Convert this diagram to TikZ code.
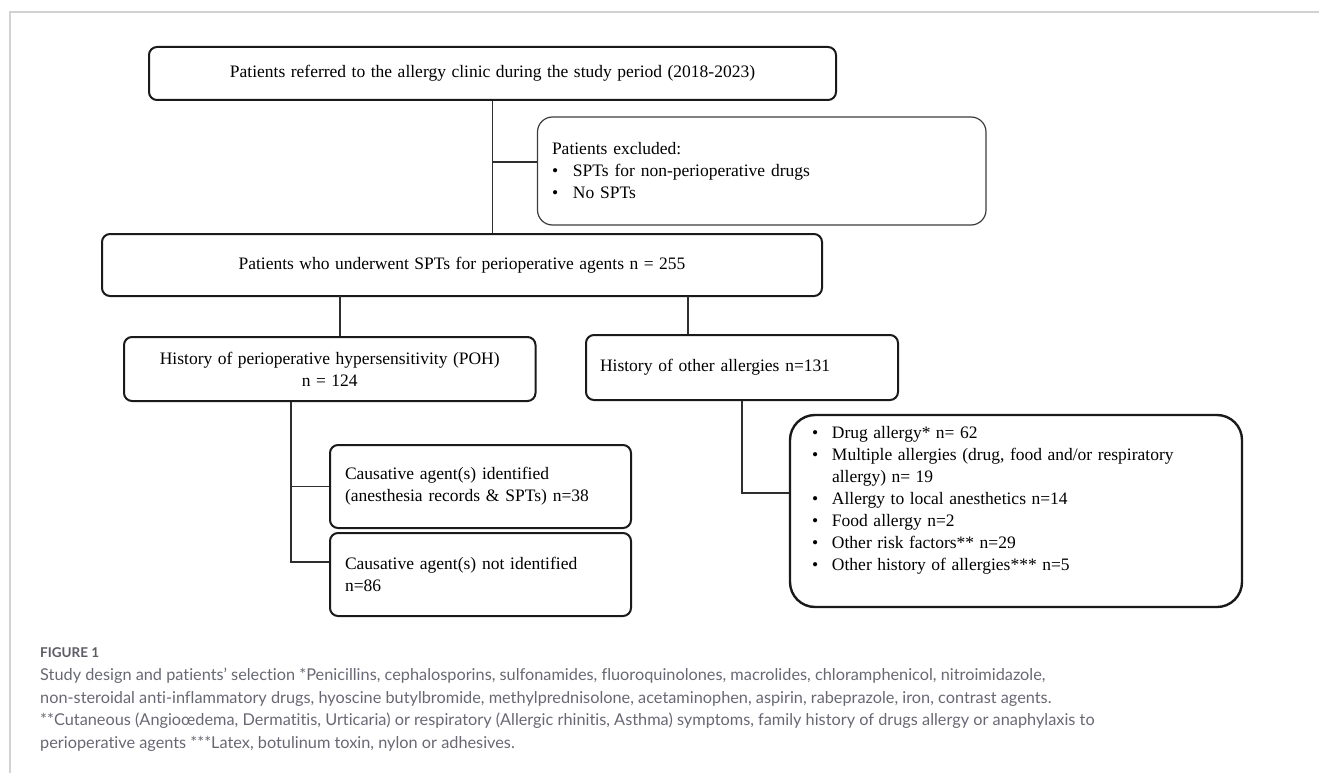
\documentclass[tikz,border=0pt]{standalone}
\usepackage{fontspec}
\setmainfont{Liberation Serif}
\newfontfamily\capfont[Ligatures=NoCommon]{Lato}
\usepackage{xcolor}
\definecolor{BoxLine}{HTML}{1A1A1A}
\definecolor{ThinLine}{HTML}{3C3C3C}
\definecolor{LinkLine}{HTML}{2E2E2E}
\definecolor{FrameGray}{HTML}{D2D2D2}
\definecolor{CapGray}{HTML}{686874}
\definecolor{CapHead}{HTML}{5C5C66}
\newcommand{\boxtext}{\fontsize{17.5}{22}\selectfont\spaceskip=5.5pt plus 1pt}
\newcommand{\captext}{\capfont\fontsize{16.3}{22.5}\selectfont}
\newcommand{\bul}[1][20pt]{\makebox[#1][l]{\textbullet}}

\begin{document}
\begin{tikzpicture}[x=1pt, y=-1pt,
  box/.style={draw=BoxLine, line width=2pt, rounded corners=8pt, font=\boxtext, align=center},
  leftbox/.style={box, align=left},
  link/.style={draw=LinkLine, line width=1.3pt}]
		\useasboundingbox (0,0) rectangle (1319,773);
		% Frame
		\draw[FrameGray, line width=1.5pt] (10,773) -- (10,12) -- (1319,12);
		
		% Boxes
		\node[box, minimum width=687pt, minimum height=53pt] (referred) at (492.5,73.5) {Patients referred to the allergy clinic during the study period (2018-2023)};
		\node[leftbox, line width=1.2pt, draw=ThinLine, rounded corners=15pt, text width=419.5pt, inner xsep=14.5pt, minimum height=108pt] (excluded) at (761.75,171) {Patients excluded:\\ \bul[21pt]SPTs for non-perioperative drugs\\ \bul[21pt]No SPTs};
		\node[box, minimum width=720pt, minimum height=62pt] (tested) at (462,265) {Patients who underwent SPTs for perioperative agents n = 255};
		\node[box, minimum width=411.5pt, minimum height=64pt] (poh) at (329.75,369) {History of perioperative hypersensitivity (POH)\\ n = 124};
		\node[leftbox, text width=284pt, inner xsep=14pt, minimum height=65pt] (other) at (742,367.5) {History of other allergies n=131};
		\node[leftbox, text width=271pt, inner xsep=15pt, minimum height=83pt] (found) at (480.5,486.5) {Causative agent(s) identified\\ (anesthesia records \& SPTs) n=38};
		\node[leftbox, text width=271pt, inner xsep=15pt, minimum height=83pt] (notfound) at (480.5,574.5) {Causative agent(s) not identified\\ n=86};
		\node[box, line width=2.4pt, rounded corners=25pt, inner xsep=22pt, inner ysep=11.5pt] (others) at (1016,511) {\parbox[c][169pt][t]{408pt}{\raggedright\spaceskip=5.5pt plus 1pt
			\bul Drug allergy* n= 62\\
			\bul Multiple allergies (drug, food and/or respiratory\\
			\hspace*{20pt}allergy) n= 19\\
			\bul Allergy to local anesthetics n=14\\
			\bul Food allergy n=2\\
			\bul Other risk factors** n=29\\
			\bul Other history of allergies*** n=5}};
		
		% Links
		\coordinate (exjoin) at (493,162);
		\coordinate (lsplit) at (340,296);
		\coordinate (rsplit) at (688,296);
		\coordinate (pohstem) at (291,562);
		\coordinate (othbend) at (743,493);
		\draw[link] (referred.south) -- (referred.south |- tested.north);
		\draw[link] (exjoin) -- (exjoin -| excluded.west);
		\draw[link] (lsplit) -- (lsplit |- poh.north);
		\draw[link] (rsplit) -- (rsplit |- other.north);
		\draw[link] (pohstem |- poh.south) -- (pohstem) -- (pohstem -| notfound.west);
		\draw[link] (pohstem |- found.west) -- (found.west);
		\draw[link] (other.south) -- (other.south |- othbend) -- (othbend -| others.west);
		
		% Caption
		\node[anchor=west, inner sep=0pt, font={\capfont\bfseries\fontsize{13.5}{15}\selectfont}, text=CapHead] (fighead) at (40,653) {FIGURE 1};
		\node[anchor=north west, inner sep=0pt, align=left, font=\captext, text=CapGray] (figcap) at (40,668) {Study design and patients’ selection *Penicillins, cephalosporins, sulfonamides, fluoroquinolones, macrolides, chloramphenicol, nitroimidazole,\\
			non-steroidal anti-inflammatory drugs, hyoscine butylbromide, methylprednisolone, acetaminophen, aspirin, rabeprazole, iron, contrast agents.\\
			**Cutaneous (Angioœdema, Dermatitis, Urticaria) or respiratory (Allergic rhinitis, Asthma) symptoms, family history of drugs allergy or anaphylaxis to\\
			perioperative agents ***Latex, botulinum toxin, nylon or adhesives.};
	\end{tikzpicture}
\end{document}
